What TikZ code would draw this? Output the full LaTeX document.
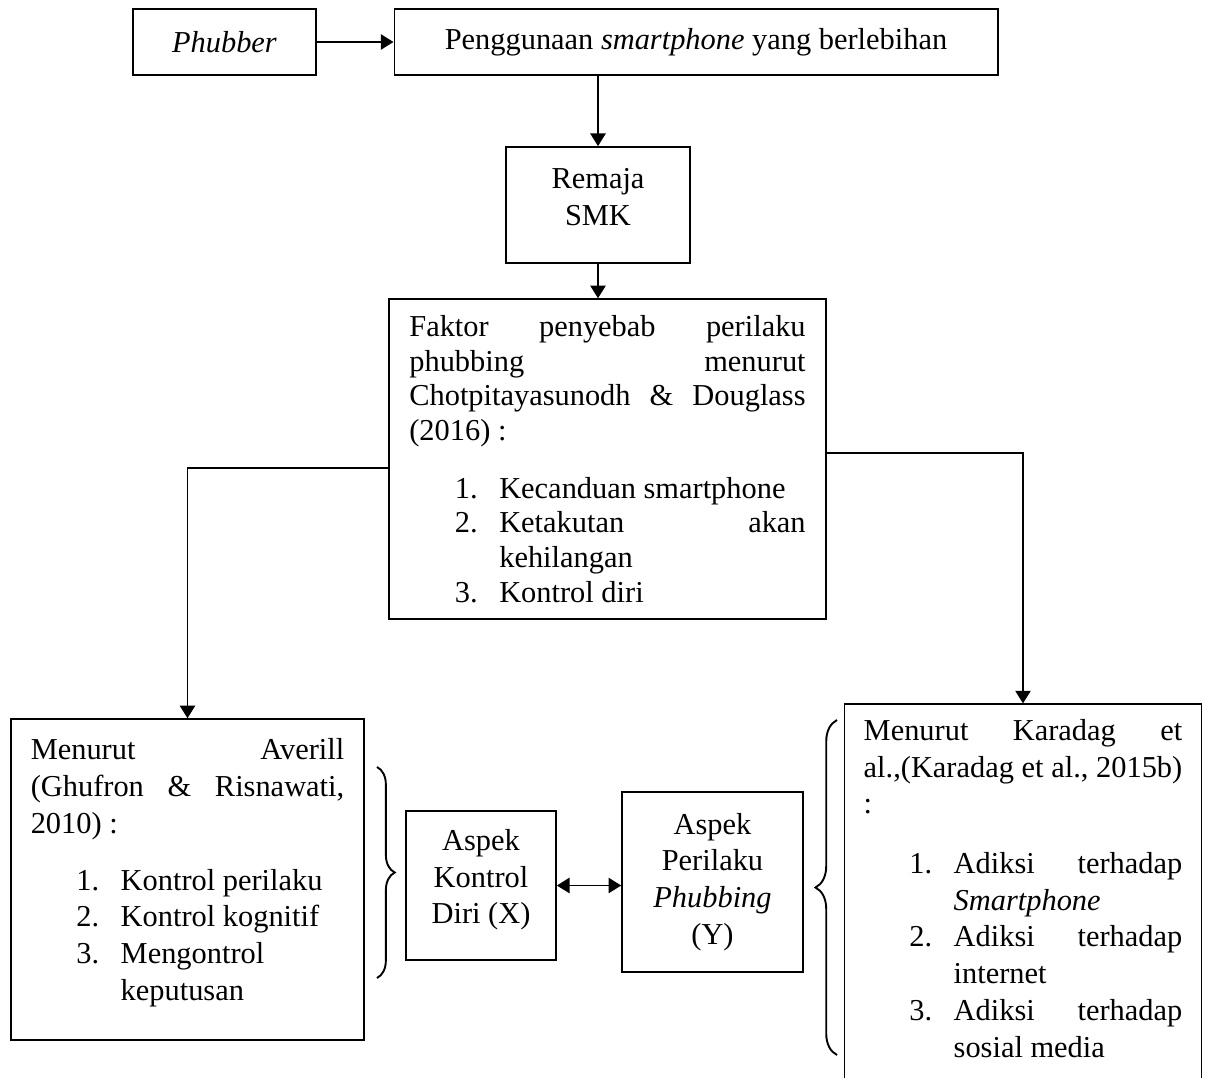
\documentclass[tikz,border=0pt]{standalone}
\usepackage{fontspec}
\setmainfont{Liberation Serif}
\usepackage{tikz}
\usetikzlibrary{arrows.meta, positioning, calc, decorations.pathreplacing}
\setlength{\parindent}{0pt}
\newcommand{\numitem}[1]{\hspace*{18pt}\makebox[17.5pt][l]{#1.}}
\newcommand{\wrapitem}{\hspace*{35.5pt}}
\newcommand{\lowpad}[1]{\rule[-#1]{0pt}{#1}}

\begin{document}
\begin{tikzpicture}[x=0.01387cm, y=-0.01387cm, line width=0.75pt, >={Triangle[length=5pt, width=6pt]},
    every node/.style={font=\fontsize{12}{14.5}\selectfont},
    box/.style={draw, rectangle, align=center, inner sep=0pt},
    listbox/.style={draw, rectangle, align=justify, inner ysep=0pt, inner xsep=7.9pt}]
    \useasboundingbox (0,0) rectangle (1210,1078);
    \clip (0,0) rectangle (1210,1078);

    % Phubber (x=224, y=42)
    \node[box, minimum width=72.1pt, minimum height=26pt] (phubber) at (224.5, 42) {\textit{Phubber}};

    % Penggunaan (x=696, y=42)
    \node[box, minimum width=238pt, minimum height=26pt] (guna) at (696, 42) {Penggunaan \textit{smartphone} yang berlebihan};

    % Remaja SMK (x=598, y=205)
    \node[box, minimum width=72.5pt, minimum height=45.7pt] (remaja) at (598, 205) {Remaja\\SMK\lowpad{6.5pt}};

    % Faktor penyebab (x=607, y=459)
    \node[listbox, text width=156.4pt, minimum height=126.1pt, font=\fontsize{12}{13.7}\selectfont] (faktor) at (607.5, 459) {%
        Faktor\hfill penyebab\hfill perilaku\\
        phubbing\hfill menurut\\
        Chotpitayasunodh\hfill\&\hfill Douglass\\
        (2016) :\\[9pt]
        \numitem{1}Kecanduan smartphone\\
        \numitem{2}Ketakutan\hfill akan\\
        \wrapitem kehilangan\\
        \numitem{3}Kontrol diri};

    % Averill (x=187, y=880)
    \node[listbox, text width=123.7pt, minimum height=126.5pt] (averill) at (187.5, 879.5) {%
        Menurut\hfill Averill\\
        (Ghufron\hfill\&\hfill Risnawati,\\
        2010) :\\[8pt]
        \numitem{1}Kontrol perilaku\\
        \numitem{2}Kontrol kognitif\\
        \numitem{3}Mengontrol\\
        \wrapitem keputusan\lowpad{8pt}};

    % Aspek Kontrol Diri (x=481, y=885)
    \node[box, minimum width=59.1pt, minimum height=58.7pt] (kontrol) at (481, 885.5) {Aspek\\Kontrol\\Diri (X)\lowpad{7pt}};

    % Aspek Perilaku Phubbing (x=712, y=882)
    \node[box, minimum width=71.3pt, minimum height=70.9pt] (perilaku) at (712.5, 882) {Aspek\\Perilaku\\\textit{Phubbing}\\(Y)};

    % Karadag (x=1023, y=900)
    \node[listbox, text width=125.7pt, inner xsep=7.6pt, minimum height=154pt] (karadag) at (1023, 899.5) {%
        Menurut\hfill Karadag\hfill et\\
        al.,(Karadag\hfill et\hfill al.,\hfill 2015b)\\
        :\\[9pt]
        \numitem{1}Adiksi\hfill terhadap\\
        \wrapitem\textit{Smartphone}\\
        \numitem{2}Adiksi\hfill terhadap\\
        \wrapitem internet\\
        \numitem{3}Adiksi\hfill terhadap\\
        \wrapitem sosial media\lowpad{9pt}};

    % Arrows
    \draw[->] (phubber) -- (guna);
    \draw[->] (guna.south -| remaja.north) -- (remaja.north);
    \draw[->] (remaja.south) -- (remaja.south |- faktor.north);
    \draw[->] ($(faktor.west)+(0,9)$) -| (averill.north);
    \draw[->] ($(faktor.east)+(0,-6)$) -| (karadag.north);
    \draw[<->] (kontrol.east) -- (kontrol.east -| perilaku.west);

    % Braces
    \draw[decorate, decoration={brace, amplitude=7pt}] (377,767) -- (377,978);
    \draw[decorate, decoration={brace, amplitude=8.5pt}] (837,1055) -- (837,720);
\end{tikzpicture}
\end{document}
